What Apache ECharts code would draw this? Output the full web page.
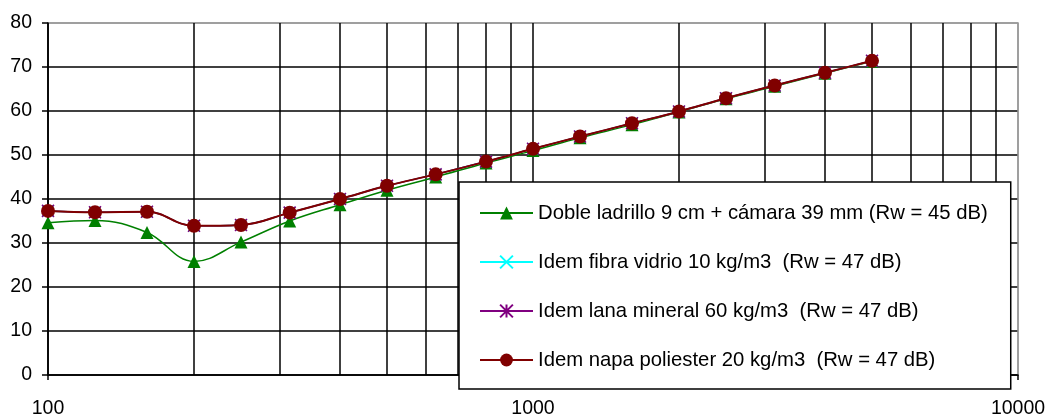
<!DOCTYPE html>
<html>
<head>
<meta charset="utf-8">
<script src="https://cdn.jsdelivr.net/npm/echarts@6/dist/echarts.min.js"></script>
<style>html,body{margin:0;padding:0;background:#fff}#c{width:1050px;height:414px}</style>
</head>
<body>
<div id="c"></div>
<script>
const freqs = [100,125,160,200,250,315,400,500,630,800,1000,1250,1600,2000,2500,3150,4000,5000];
const dobleLadrillo = [34.6,35.1,32.4,25.8,30.2,35.0,38.7,42.0,45.0,48.2,51.0,53.9,56.9,59.8,62.8,65.6,68.6,71.3];
const fibraVidrio  = [37.3,37.0,37.1,33.9,34.1,36.9,40.0,43.0,45.6,48.5,51.4,54.2,57.2,59.9,62.9,65.8,68.7,71.4];
const lanaMineral  = [37.3,37.0,37.1,33.9,34.1,36.9,40.0,43.0,45.6,48.5,51.4,54.2,57.2,59.9,62.9,65.8,68.7,71.4];
const napaPoliester= [37.3,37.0,37.1,33.9,34.1,36.9,40.0,43.0,45.6,48.5,51.4,54.2,57.2,59.9,62.9,65.8,68.7,71.4];
const seriesNames = [
  'Doble ladrillo 9 cm + cámara 39 mm (Rw = 45 dB)',
  'Idem fibra vidrio 10 kg/m3  (Rw = 47 dB)',
  'Idem lana mineral 60 kg/m3  (Rw = 47 dB)',
  'Idem napa poliester 20 kg/m3  (Rw = 47 dB)'
];
const minorGridFreqs = [200,300,400,500,600,700,800,900,2000,3000,4000,5000,6000,7000,8000,9000];

const FONT = 'Liberation Sans, Arial, sans-serif';
const pairs = arr => freqs.map((f,i)=>[f,arr[i]]);

const chart = echarts.init(document.getElementById('c'), null, {renderer:'canvas'});
chart.setOption({
  animation:false,
  backgroundColor:'#fff',
  grid:{left:48,right:32,top:23,bottom:39,show:true,borderColor:'#999',borderWidth:1.5,backgroundColor:'transparent',containLabel:false,outerBoundsMode:'none'},
  xAxis:{
    type:'log', logBase:10, min:100, max:10000,
    axisLine:{show:true,lineStyle:{color:'#000',width:1.5}},
    axisTick:{show:true,length:5,lineStyle:{color:'#000',width:1.5}},
    axisLabel:{color:'#000',fontFamily:FONT,fontSize:19.5,margin:24,formatter:v=>String(v)},
    splitLine:{show:true,lineStyle:{color:['#000','#000','#999'],width:1.5}}
  },
  yAxis:{
    type:'value', min:0, max:80, interval:10,
    axisLine:{show:true,lineStyle:{color:'#000',width:1.5}},
    axisTick:{show:true,length:6,lineStyle:{color:'#000',width:1.5}},
    axisLabel:{color:'#000',fontFamily:FONT,fontSize:19.5,margin:16},
    splitLine:{show:true,lineStyle:{color:['#000','#000','#000','#000','#000','#000','#000','#000','#999'],width:1.5}}
  },
  legend:{
    orient:'vertical', left:459, top:182,
    backgroundColor:'#fff', borderColor:'#000', borderWidth:1.5,
    padding:[21,23,19,20], itemGap:29, itemWidth:53, itemHeight:16,
    textStyle:{color:'#000',fontFamily:FONT,fontSize:20.3},
    data:seriesNames
  },
  series:[
    {
      name:seriesNames[0], type:'line', data:pairs(dobleLadrillo), smooth:0.4,
      symbol:'triangle', symbolSize:13, z:2,
      lineStyle:{color:'#008000',width:1.5},
      itemStyle:{color:'#008000'},
      markLine:{
        z:1, silent:true, symbol:['none','none'], label:{show:false},
        lineStyle:{color:'#000',width:1.5,type:'solid'},
        emphasis:{disabled:true},
        data:minorGridFreqs.map(f=>({xAxis:f}))
      }
    },
    {
      name:seriesNames[1], type:'line', data:pairs(fibraVidrio), smooth:0.4,
      symbol:'path://M0,0L10,10M10,0L0,10', symbolSize:11, z:3,
      lineStyle:{color:'#00FFFF',width:1.5},
      itemStyle:{color:'#00FFFF',borderColor:'#00FFFF',borderWidth:1.5}
    },
    {
      name:seriesNames[2], type:'line', data:pairs(lanaMineral), smooth:0.4,
      symbol:'path://M0,0L10,10M10,0L0,10M5,0L5,10', symbolSize:12, z:4,
      lineStyle:{color:'#800080',width:1.5},
      itemStyle:{color:'#800080',borderColor:'#800080',borderWidth:1.5}
    },
    {
      name:seriesNames[3], type:'line', data:pairs(napaPoliester), smooth:0.4,
      symbol:'circle', symbolSize:14, z:5,
      lineStyle:{color:'#800000',width:2},
      itemStyle:{color:'#800000'}
    }
  ]
});
</script>
</body>
</html>
